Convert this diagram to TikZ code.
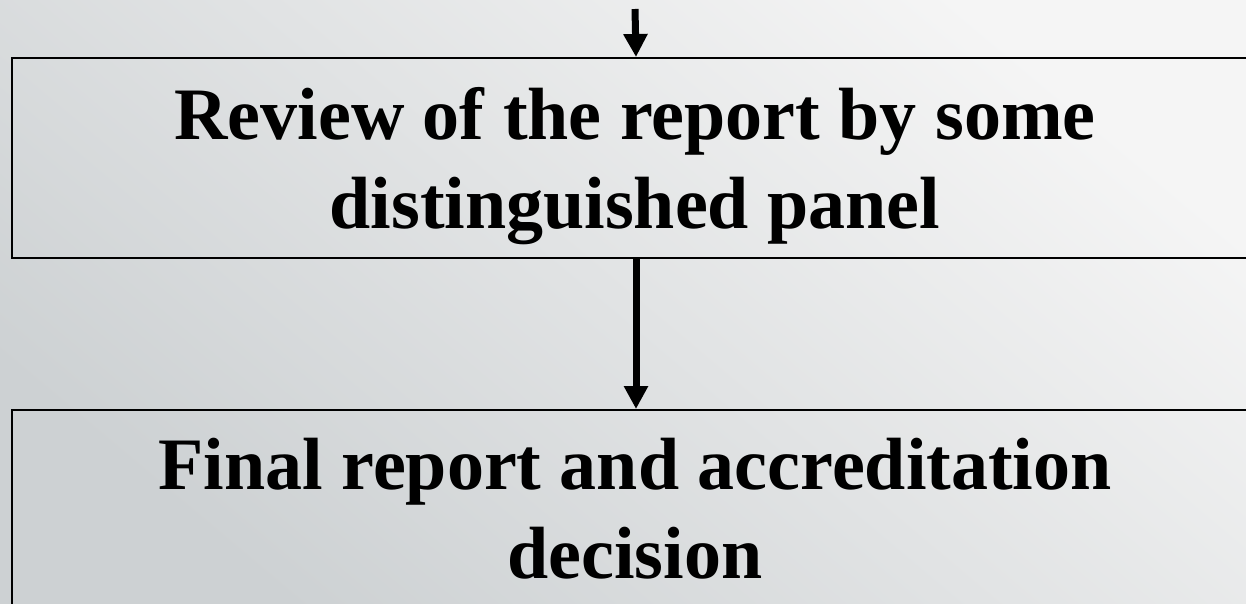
\documentclass[tikz,border=0pt]{standalone}
\usepackage{fontspec}
\setmainfont{Liberation Serif}
\usetikzlibrary{arrows.meta}
\definecolor{bglight}{HTML}{F5F5F5}
\definecolor{bgdark}{HTML}{CDD1D3}
\begin{document}
\begin{tikzpicture}[x=1pt,y=-1pt,
  stepbox/.style={draw=black, line width=2pt, minimum width=1248pt, minimum height=200pt, inner sep=0pt, anchor=north west},
  boxtext/.style={font=\bfseries\fontsize{74}{89}\selectfont, align=center, inner sep=0pt},
  flowarrow/.style={line width=7pt, -{Triangle[width=23pt,length=23pt]}}]
\useasboundingbox (0,0) rectangle (1246,604);
\clip (0,0) rectangle (1246,604);
\shade[top color=bglight, bottom color=bgdark, shading angle=-40] (0,0) rectangle (1246,604);
\node[stepbox] (review) at (11,57) {};
\node[stepbox, minimum height=300pt] (final) at (11,409) {};
\node[boxtext] (reviewtext) at (635,166) {Review of the report by some\\distinguished panel};
\node[boxtext] (finaltext) at (635,509) {Final report and accreditation\\decision};
\coordinate (start) at (635,9);
\draw[flowarrow] (start) -- (review.north);
\draw[flowarrow] (review.south) -- (final.north);
\end{tikzpicture}
\end{document}
